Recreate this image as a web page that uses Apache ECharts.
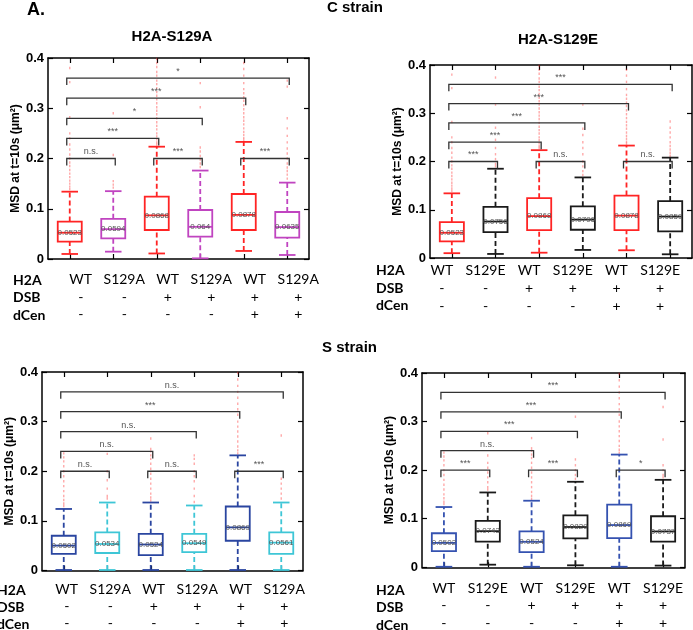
<!DOCTYPE html>
<html><head><meta charset="utf-8">
<script src="https://cdn.jsdelivr.net/npm/echarts@6/dist/echarts.min.js"></script>
<style>html,body{margin:0;padding:0;background:#fff}#c{width:693px;height:630px}</style>
</head><body><div id="c"></div>
<script>
// ---------------- DATA ----------------
const h2aS129A = ['WT','S129A','WT','S129A','WT','S129A'];
const h2aS129E = ['WT','S129E','WT','S129E','WT','S129E'];
const dsbRow  = ['-','-','+','+','+','+'];
const dcenRow = ['-','-','-','-','+','+'];
const rowNames = ['H2A','DSB','dCen'];
const yMin = 0, yMax = 0.4, yStep = 0.1;

// box stats: [lower whisker, Q1, median, Q3, upper whisker]
const boxC_S129A = [
  [0.010, 0.0345, 0.0523, 0.0745, 0.134],
  [0.0146, 0.041, 0.0594, 0.080, 0.135],
  [0.011, 0.0577, 0.0868, 0.124, 0.2235],
  [0.0013, 0.0444, 0.064, 0.0975, 0.176],
  [0.016, 0.0577, 0.0878, 0.1294, 0.233],
  [0.008, 0.0424, 0.0635, 0.0935, 0.152]
];
const boxC_S129E = [
  [0.010, 0.0345, 0.0523, 0.0745, 0.134],
  [0.0084, 0.0536, 0.0756, 0.106, 0.185],
  [0.011, 0.0577, 0.0868, 0.124, 0.2235],
  [0.0167, 0.0586, 0.0796, 0.107, 0.167],
  [0.016, 0.0577, 0.0878, 0.1294, 0.233],
  [0.0077, 0.055, 0.0859, 0.118, 0.208]
];
const boxS_S129A = [
  [0.001, 0.0333, 0.0502, 0.070, 0.124],
  [0.001, 0.0353, 0.0534, 0.0767, 0.137],
  [0.001, 0.031, 0.0524, 0.074, 0.137],
  [0.001, 0.037, 0.0549, 0.074, 0.131],
  [0.001, 0.060, 0.0869, 0.129, 0.232],
  [0.001, 0.0333, 0.0561, 0.077, 0.137]
];
const boxS_S129E = [
  [0.001, 0.0333, 0.0502, 0.070, 0.124],
  [0.0053, 0.0528, 0.0743, 0.0955, 0.154],
  [0.001, 0.031, 0.0524, 0.074, 0.137],
  [0.004, 0.0596, 0.0829, 0.107, 0.176],
  [0.001, 0.060, 0.0869, 0.129, 0.232],
  [0.0034, 0.0528, 0.0737, 0.105, 0.180]
];

// outliers per box
const outC_WT     = [0.38, 0.352, 0.282, 0.25, 0.24, 0.228, 0.218, 0.208, 0.2, 0.192, 0.185, 0.177, 0.17, 0.163, 0.156, 0.15, 0.144, 0.139];
const outC_WTdsb  = [0.398, 0.39, 0.382, 0.372, 0.365, 0.355, 0.348, 0.34, 0.332, 0.325, 0.318, 0.31, 0.302, 0.295, 0.288, 0.28, 0.272, 0.265, 0.258, 0.25, 0.244, 0.238, 0.232, 0.228];
const outC_WTdcen = [0.39, 0.378, 0.365, 0.35, 0.338, 0.33, 0.322, 0.315, 0.306, 0.298, 0.29, 0.282, 0.275, 0.268, 0.26, 0.253, 0.247, 0.241, 0.237];
const outC_S129A = [outC_WT, [0.29, 0.207, 0.155, 0.148, 0.142], outC_WTdsb,
  [0.35, 0.302, 0.222, 0.214, 0.205, 0.198, 0.19, 0.183], outC_WTdcen,
  [0.355, 0.343, 0.28, 0.26, 0.245, 0.232, 0.22, 0.21, 0.2, 0.19, 0.182, 0.175, 0.168, 0.16]];
const outC_S129E = [outC_WT, [0.374, 0.318, 0.27, 0.245, 0.228, 0.215, 0.205, 0.195, 0.19], outC_WTdsb,
  [0.318, 0.268, 0.255, 0.24, 0.228, 0.215, 0.2, 0.19, 0.18, 0.172], outC_WTdcen,
  [0.283, 0.27, 0.26, 0.25, 0.24, 0.232, 0.225, 0.218, 0.212]];
const outS_WT     = [0.236, 0.228, 0.22, 0.21, 0.2, 0.19, 0.18, 0.17, 0.16, 0.15, 0.142, 0.135, 0.13];
const outS_WTdsb  = [0.266, 0.245, 0.24, 0.232, 0.225, 0.215, 0.205, 0.195, 0.185, 0.175, 0.165, 0.155, 0.147, 0.141];
const outS_WTdcen = [0.398, 0.385, 0.372, 0.36, 0.348, 0.336, 0.325, 0.314, 0.3, 0.29, 0.28, 0.27, 0.26, 0.25, 0.242, 0.236];
const outS_S129A = [outS_WT, [0.235, 0.2, 0.182, 0.165, 0.15, 0.145], outS_WTdsb,
  [0.232, 0.225, 0.215, 0.2, 0.19, 0.18, 0.165, 0.15, 0.138], outS_WTdcen,
  [0.272, 0.185, 0.175, 0.165, 0.155, 0.145]];
const outS_S129E = [outS_WT, [0.276, 0.23, 0.215, 0.205, 0.195, 0.185, 0.175, 0.165, 0.16], outS_WTdsb,
  [0.31, 0.222, 0.21, 0.2, 0.19, 0.182], outS_WTdcen,
  [0.33, 0.263, 0.21, 0.2, 0.19, 0.185]];

// significance brackets
const sigPairs  = [[0,5],[0,4],[0,3],[0,2],[0,1],[2,3],[4,5]];
const sigLevels = [0.36, 0.32, 0.28, 0.24, 0.2, 0.2, 0.2];
const sigC_S129A = ['*','***','*','***','n.s.','***','***'];
const sigC_S129E = ['***','***','***','***','***','n.s.','n.s.'];
const sigS_S129A = ['n.s.','***','n.s.','n.s.','n.s.','n.s.','***'];
const sigS_S129E = ['***','***','***','n.s.','***','***','*'];

const yName = 'MSD at t=10s (μm²)';

// ---------------- STYLE / LAYOUT ----------------
const RED = '#ff2424', PUR = '#c044c0', BLK = '#1a1a1a', DBLUE = '#2a45a0', CYAN = '#3ec6d6', MBLUE = '#3552b0';
const panels = [
  {grid:{left:48, top:58, width:261, height:201}, h2a:h2aS129A, box:boxC_S129A, out:outC_S129A, sig:sigC_S129A,
   colors:[RED,PUR,RED,PUR,RED,PUR], margin:12, pad:[0,0,0,22], lh:17.5, gap:25},
  {grid:{left:430, top:65, width:262, height:193}, h2a:h2aS129E, box:boxC_S129E, out:outC_S129E, sig:sigC_S129E,
   colors:[RED,BLK,RED,BLK,RED,BLK], margin:4, pad:[0,20,0,0], lh:17.7, gap:22},
  {grid:{left:42, top:372, width:261, height:199}, h2a:h2aS129A, box:boxS_S129A, out:outS_S129A, sig:sigS_S129A,
   colors:[DBLUE,CYAN,DBLUE,CYAN,DBLUE,CYAN], margin:10, pad:[0,0,0,6], lh:17, gap:23},
  {grid:{left:422, top:373, width:263, height:196}, h2a:h2aS129E, box:boxS_S129E, out:outS_S129E, sig:sigS_S129E,
   colors:[MBLUE,BLK,MBLUE,BLK,MBLUE,BLK], margin:12, pad:[0,0,0,0], lh:17.5, gap:22}
];

const grids=[], xAxes=[], yAxes=[], series=[];
const lineSt = {color:'#000', width:1.5};
const tickSt = {color:'#000', width:1.2};

panels.forEach((P, p) => {
  grids.push(Object.assign({containLabel:false}, P.grid));
  const cats = P.h2a.map((_, i) => String(i));
  const rich = {
    a:{fontFamily:'Lato', fontSize:14, lineHeight:P.lh, color:'#000'},
    b:{fontFamily:'Lato', fontSize:14, lineHeight:P.lh, color:'#000'}
  };
  xAxes.push({type:'category', gridIndex:p, position:'bottom', data:cats, boundaryGap:true,
    axisLine:{show:true, onZero:false, lineStyle:lineSt},
    axisTick:{show:true, inside:true, alignWithLabel:true, length:5, lineStyle:tickSt},
    axisLabel:{interval:0, margin:P.margin, padding:P.pad,
      formatter:(v, i) => `{a|${P.h2a[i]}}\n{b|${dsbRow[i]}}\n{b|${dcenRow[i]}}`, rich},
    splitLine:{show:false}});
  xAxes.push({type:'category', gridIndex:p, position:'top', data:cats, boundaryGap:true,
    axisLine:{show:true, onZero:false, lineStyle:lineSt},
    axisTick:{show:true, inside:true, alignWithLabel:true, length:5, lineStyle:tickSt},
    axisLabel:{show:false}, splitLine:{show:false}});
  yAxes.push({type:'value', gridIndex:p, position:'left', min:yMin, max:yMax, interval:yStep,
    axisLine:{show:true, lineStyle:lineSt},
    axisTick:{show:true, inside:true, length:5, lineStyle:tickSt},
    axisLabel:{fontFamily:'Liberation Sans', fontWeight:'bold', fontSize:13, color:'#000', margin:4},
    splitLine:{show:false},
    name:yName, nameLocation:'middle', nameGap:P.gap,
    nameTextStyle:{fontFamily:'Liberation Sans', fontWeight:'bold', fontSize:12, color:'#000'}});
  yAxes.push({type:'value', gridIndex:p, position:'right', min:yMin, max:yMax, interval:yStep,
    axisLine:{show:true, lineStyle:lineSt},
    axisTick:{show:true, inside:true, length:5, lineStyle:tickSt},
    axisLabel:{show:false}, splitLine:{show:false}});

  // outliers
  const od = [];
  P.out.forEach((arr, i) => arr.forEach(v => od.push([i, v])));
  series.push({type:'scatter', xAxisIndex:2*p, yAxisIndex:2*p, data:od, symbol:'rect', symbolSize:[1.4,2.4],
    itemStyle:{color:'rgba(255,60,60,0.55)'}, silent:true, z:2, animation:false});

  // boxes
  series.push({type:'custom', xAxisIndex:2*p, yAxisIndex:2*p, z:3, animation:false,
    data:P.box.map((b, i) => [i].concat(b)),
    encode:{x:0, y:[1,2,3,4,5]},
    renderItem:function(params, api){
      const i = api.value(0);
      const c = P.colors[i];
      const pt = k => api.coord([i, api.value(k)]);
      const lo = pt(1), q1 = pt(2), md = pt(3), q3 = pt(4), hi = pt(5);
      const bw = api.size([1, 0])[0];
      const hb = bw*0.276, hc = bw*0.19;
      const x = lo[0];
      const dash = {stroke:c, lineWidth:1.8, lineDash:[5,3], fill:null};
      const solid = {stroke:c, lineWidth:1.8, fill:null};
      return {type:'group', children:[
        {type:'line', shape:{x1:x, y1:q3[1], x2:x, y2:hi[1]}, style:dash},
        {type:'line', shape:{x1:x, y1:lo[1], x2:x, y2:q1[1]}, style:dash},
        {type:'line', shape:{x1:x-hc, y1:hi[1], x2:x+hc, y2:hi[1]}, style:solid},
        {type:'line', shape:{x1:x-hc, y1:lo[1], x2:x+hc, y2:lo[1]}, style:solid},
        {type:'rect', shape:{x:x-hb, y:q3[1], width:2*hb, height:q1[1]-q3[1]}, style:{stroke:c, lineWidth:1.8, fill:'rgba(0,0,0,0)'}},
        {type:'line', shape:{x1:x-hb, y1:md[1], x2:x+hb, y2:md[1]}, style:solid},
        {type:'text', x:x, y:md[1], style:{text:String(api.value(3)), fill:'#555',
          font:'8px "Liberation Sans"', align:'center', verticalAlign:'middle',
          textAlign:'center', textVerticalAlign:'middle'}}
      ]};
    }});

  // significance brackets
  series.push({type:'custom', xAxisIndex:2*p, yAxisIndex:2*p, z:4, animation:false,
    data:sigPairs.map((pr, k) => [pr[0], sigLevels[k], pr[1]]),
    encode:{x:0, y:1},
    renderItem:function(params, api){
      const a = api.coord([api.value(0), api.value(1)]);
      const b = api.coord([api.value(2), api.value(1)]);
      const xl = a[0]-3, xr = b[0]+2, y = a[1];
      return {type:'group', children:[
        {type:'polyline', shape:{points:[[xl, y+7],[xl, y],[xr, y],[xr, y+7]]},
          style:{stroke:'#333', lineWidth:1.3, fill:null}},
        {type:'text', x:(xl+xr)/2, y:y-2, style:{text:P.sig[params.dataIndex], fill:'#555',
          font:'9px "Liberation Sans"', align:'center', verticalAlign:'bottom',
          textAlign:'center', textVerticalAlign:'bottom'}}
      ]};
    }});
});

// free texts
const txt = (s, x, y, font, align) => ({type:'text', x, y, silent:true,
  style:{text:s, font, fill:'#000', align:align||'left', verticalAlign:'middle',
    textAlign:align||'left', textVerticalAlign:'middle'}});
const HB = 'bold 15px "Liberation Sans"';
const RB = 'bold 14px Lato';
const rowHdr = [];
[[13,280,17.5],[376,270.5,17.7],[-3,590,17],[376,590,17.5]].forEach(r => {
  rowNames.forEach((n, k) => rowHdr.push(txt(n, r[0], r[1]+k*r[2], RB)));
});
const graphic = [
  txt('A.', 27, 10, 'bold 18px "Liberation Sans"'),
  txt('C strain', 327, 8, HB),
  txt('S strain', 322, 348, HB),
  txt('H2A-S129A', 172, 37, HB, 'center'),
  txt('H2A-S129E', 558, 40, HB, 'center')
].concat(rowHdr);

const chart = echarts.init(document.getElementById('c'), null, {renderer:'canvas'});
chart.setOption({animation:false, backgroundColor:'#fff', grid:grids, xAxis:xAxes, yAxis:yAxes, series, graphic});
</script></body></html>
